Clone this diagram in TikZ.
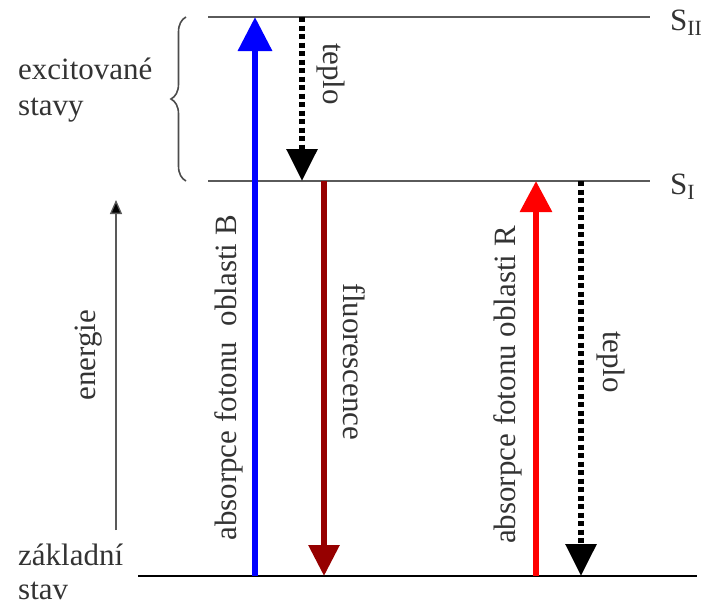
\documentclass[tikz,border=0pt]{standalone}
\usepackage{fontspec}
\setmainfont{Liberation Serif}
\usetikzlibrary{arrows.meta,decorations.pathreplacing}
\definecolor{levelgray}{RGB}{90,90,90}
\definecolor{fluored}{RGB}{150,0,0}
\definecolor{absblue}{RGB}{0,0,255}
\definecolor{absred}{RGB}{255,0,0}
\tikzset{
  level/.style={draw=levelgray, line width=1.2pt},
  ground/.style={draw=black, line width=2.2pt},
  lbl/.style={font=\fontsize{31}{36}\selectfont, text=black!80, inner sep=0pt},
  bigarrow/.style={line width=6.5pt, -{Triangle[length=34pt,width=33pt]}},
  heatarrow/.style={line width=6pt, dash pattern=on 5pt off 3.5pt, -{Triangle[length=32pt,width=30pt]}},
}
\begin{document}
\begin{tikzpicture}[x=1pt,y=-1pt]
\useasboundingbox (0,0) rectangle (704,608);

% energy levels
\coordinate (s2l) at (208,17);  \coordinate (s2r) at (650,17);
\coordinate (s1l) at (208,181); \coordinate (s1r) at (650,181);
\coordinate (gl)  at (138,576); \coordinate (gr)  at (697,576);
\draw[level] (s2l) -- (s2r);
\draw[level] (s1l) -- (s1r);
\draw[ground] (gl) -- (gr);

\node[lbl, anchor=base west] (sII) at (670,30) {S\textsubscript{II}};
\node[lbl, anchor=base west] (sI)  at (670,194) {S\textsubscript{I}};

% brace grouping the excited states
\coordinate (bt) at (186,17);
\coordinate (bb) at (186,181);
\draw[black!70, line width=1.6pt, decorate, decoration={brace, amplitude=15pt}] (bb) -- (bt);

\node[lbl, anchor=base west] (exc1) at (18,79) {excitované};
\node[lbl, anchor=base west] (exc2) at (18,115) {stavy};
\node[lbl, anchor=base west] (gnd1) at (18,565) {základní};
\node[lbl, anchor=base west] (gnd2) at (18,599) {stav};

% energy axis
\coordinate (e0) at (116,530);
\coordinate (e1) at (116,200);
\draw[black!65, line width=1.3pt, -{Triangle[length=14pt,width=12pt,fill=black]}] (e0) -- (e1);
\node[lbl, rotate=90] (energ) at (89,355) {energie};

% blue absorption
\coordinate (b0) at (255,576); \coordinate (b1) at (255,17);
\draw[bigarrow, absblue] (b0) -- (b1);
\node[lbl, rotate=90] (labB) at (229,378) {absorpce fotonu\ \ oblasti B};

% heat S_II -> S_I
\coordinate (h0) at (302,17); \coordinate (h1) at (302,181);
\draw[heatarrow, black] (h0) -- (h1);
\node[lbl, rotate=-90] (labh1) at (331,74) {teplo};

% fluorescence
\coordinate (f0) at (324,181); \coordinate (f1) at (324,576);
\draw[line width=6pt, fluored, -{Triangle[length=31pt,width=30pt]}] (f0) -- (f1);
\node[lbl, rotate=-90] (labF) at (354,362) {fluorescence};

% red absorption
\coordinate (r0) at (536,576); \coordinate (r1) at (536,181);
\draw[line width=6pt, absred, -{Triangle[length=31pt,width=31pt]}] (r0) -- (r1);
\node[lbl, rotate=90] (labR) at (508,385) {absorpce fotonu oblasti R};

% heat S_I -> ground
\coordinate (h2) at (581,181); \coordinate (h3) at (581,576);
\draw[heatarrow, black] (h2) -- (h3);
\node[lbl, rotate=-90] (labh2) at (611,362) {teplo};
\end{tikzpicture}
\end{document}
